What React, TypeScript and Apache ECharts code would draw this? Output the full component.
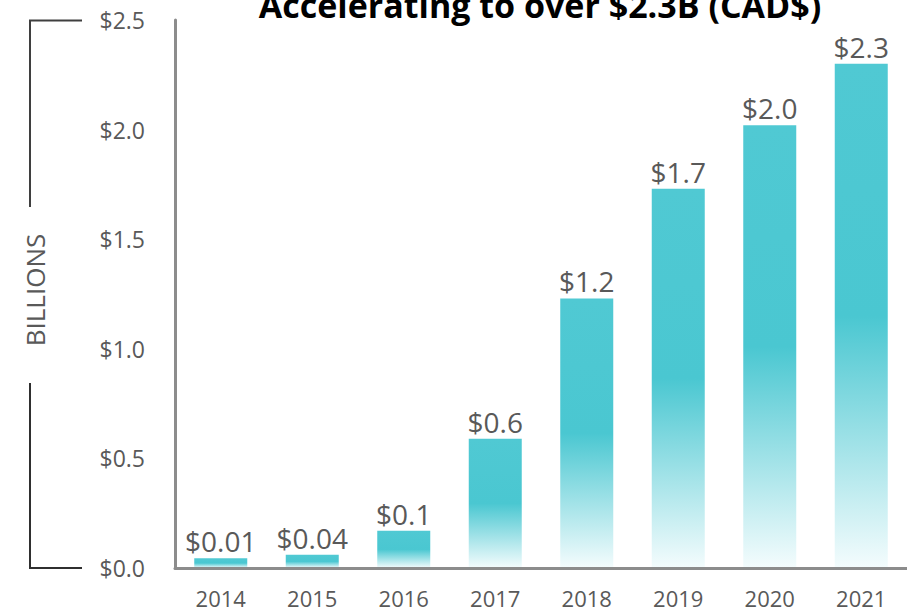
import React, { useEffect, useRef } from "react";
import * as echarts from "echarts";

const years = ["2014", "2015", "2016", "2017", "2018", "2019", "2020", "2021"];
const barValues = [0.045, 0.06, 0.17, 0.59, 1.23, 1.73, 2.02, 2.3];
const barLabels = ["$0.01", "$0.04", "$0.1", "$0.6", "$1.2", "$1.7", "$2.0", "$2.3"];
const yTicks = { min: 0, max: 2.5, interval: 0.5 };
const titleText = "Accelerating to over $2.3B (CAD$)";
const unitText = "BILLIONS";

const FONT = "'Open Sans', 'Noto Sans', sans-serif";
const GREY_TEXT = "#595959";
const AXIS_GREY = "#8C8C8C";

export default function App() {
  const ref = useRef<HTMLDivElement>(null);
  useEffect(() => {
    if (!ref.current) return;
    const chart = echarts.init(ref.current, undefined, { renderer: "svg" });
    chart.setOption({
      animation: false,
      backgroundColor: "#ffffff",
      grid: { left: 175, right: 0, top: 20, bottom: 42, containLabel: false },
      xAxis: {
        type: "category",
        data: years,
        z: 5,
        axisLine: { show: true, lineStyle: { color: AXIS_GREY, width: 3 } },
        axisTick: { show: false },
        axisLabel: { color: GREY_TEXT, fontSize: 22, fontFamily: FONT, margin: 19 },
      },
      yAxis: {
        type: "value",
        min: yTicks.min,
        max: yTicks.max,
        interval: yTicks.interval,
        z: 5,
        axisLine: { show: true, lineStyle: { color: AXIS_GREY, width: 3 } },
        axisTick: { show: false },
        splitLine: { show: false },
        axisLabel: {
          color: GREY_TEXT,
          fontSize: 23,
          fontFamily: FONT,
          margin: 30,
          formatter: (v: number) => "$" + v.toFixed(1),
        },
      },
      series: [
        {
          type: "bar",
          data: barValues,
          barWidth: 53,
          itemStyle: {
            color: new echarts.graphic.LinearGradient(0, 0, 0, 1, [
              { offset: 0, color: "#50C9D3" },
              { offset: 0.5, color: "#4AC7D1" },
              { offset: 1, color: "#F4FCFD" },
            ]),
          },
          label: {
            show: true,
            position: "top",
            distance: 3,
            color: GREY_TEXT,
            fontSize: 28,
            fontFamily: FONT,
            formatter: (p: any) => barLabels[p.dataIndex],
          },
        },
      ],
      graphic: [
        {
          type: "text",
          x: 540,
          y: 5,
          style: {
            text: titleText,
            font: `bold 34px ${FONT}`,
            fill: "#000000",
            textAlign: "center",
            textVerticalAlign: "middle",
          },
        },
        {
          type: "text",
          x: 35,
          y: 290,
          rotation: Math.PI / 2,
          style: {
            text: unitText,
            font: `26px ${FONT}`,
            fill: GREY_TEXT,
            textAlign: "center",
            textVerticalAlign: "middle",
          },
        },
        {
          type: "polyline",
          shape: { points: [[82, 20.5], [30, 20.5], [30, 207]] },
          style: { stroke: "#3f3f3f", lineWidth: 2, fill: "none" },
        },
        {
          type: "polyline",
          shape: { points: [[30, 383], [30, 568], [82, 568]] },
          style: { stroke: "#2f2f2f", lineWidth: 2, fill: "none" },
        },
      ],
    });
    return () => chart.dispose();
  }, []);
  return <div ref={ref} style={{ width: 907, height: 610, position: "absolute", left: 0, top: 0 }} />;
}
